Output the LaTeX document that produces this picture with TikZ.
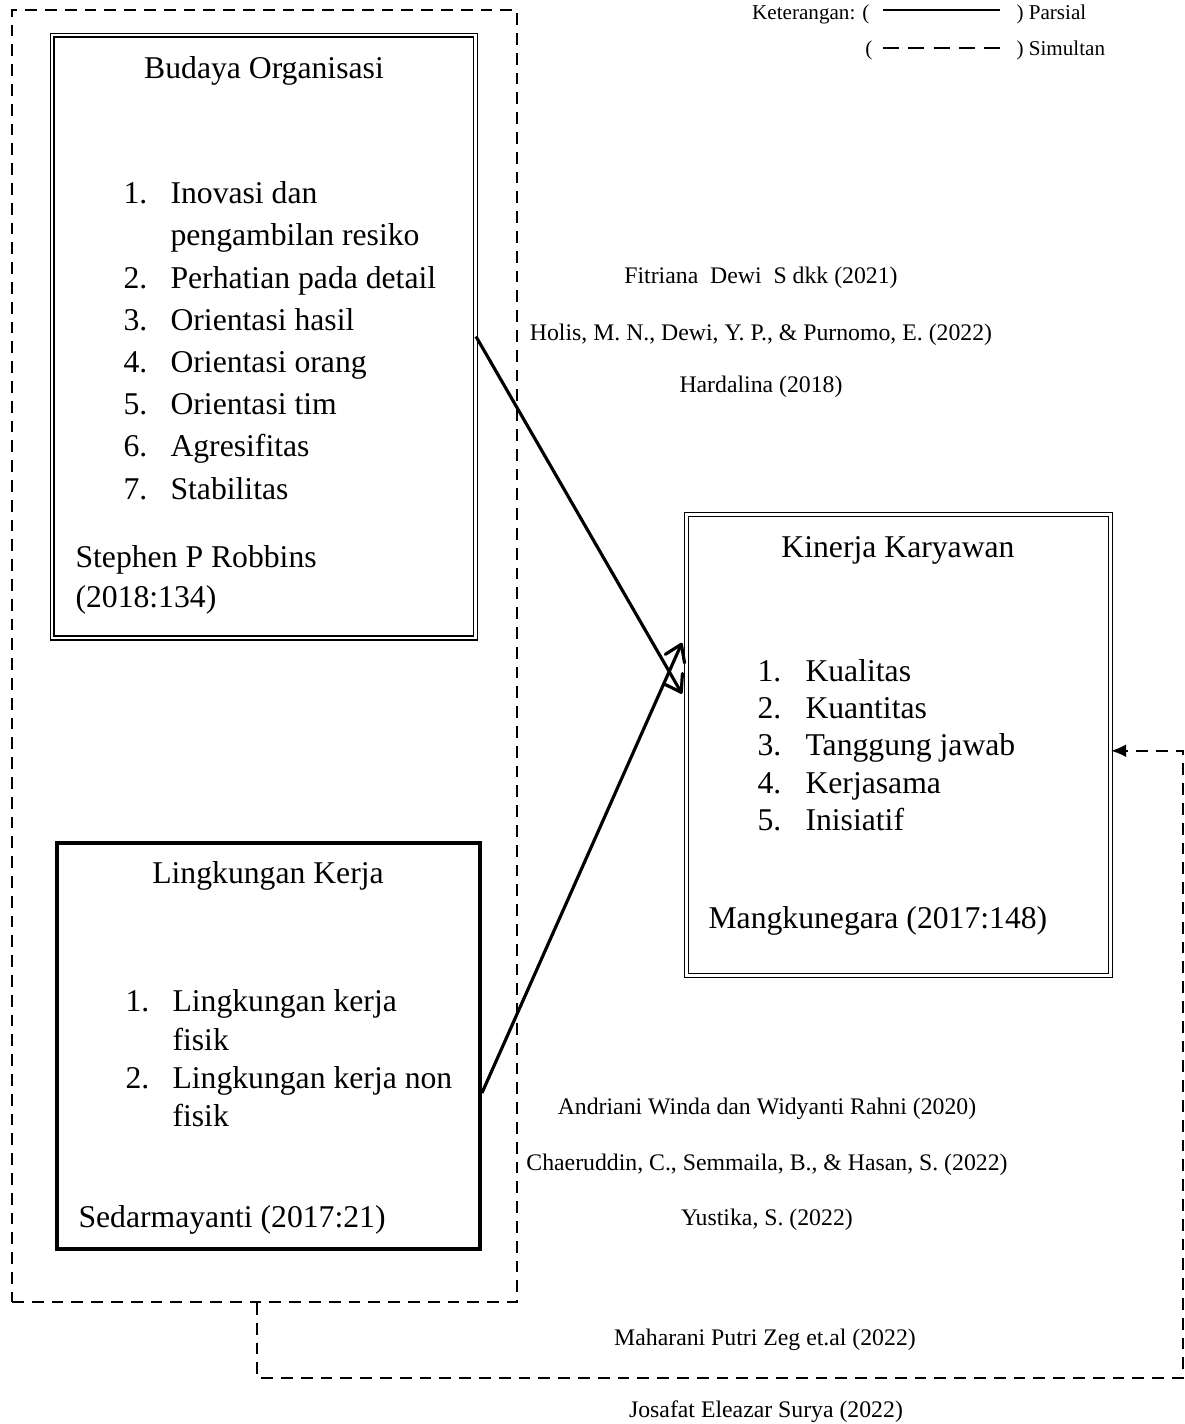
\documentclass[tikz,border=0pt]{standalone}
\usepackage{fontspec}
\setmainfont{Liberation Serif}
\usetikzlibrary{arrows.meta,positioning,calc}

\begin{document}
\begin{tikzpicture}[
    x=0.3788pt,y=-0.3788pt,
    font=\fontsize{12}{14}\selectfont,
    kotak/.style={draw,double,double distance=1.1pt,line width=0.4pt},
    kotaktebal/.style={draw,line width=1.5pt},
    putus/.style={dash pattern=on 4.5pt off 3pt,line width=0.75pt},
    teks/.style={anchor=base west,inner sep=0pt},
    judul/.style={anchor=base,inner sep=0pt},
    sumber/.style={anchor=base,inner sep=0pt,font=\fontsize{9}{11}\selectfont},
    ket/.style={inner sep=0pt,font=\fontsize{8}{10}\selectfont},
    panah/.style={-{Straight Barb[length=2.1mm,width=2.8mm,round]},line width=1.2pt}
]
\useasboundingbox (0,0) rectangle (1185,1424);

% kotak variabel
\node[draw,putus,minimum width=191.3pt,minimum height=489.4pt] (luar) at (264.5,656) {};
\node[kotak,minimum width=160.4pt,minimum height=228.4pt] (budaya) at (263.75,336.5) {};
\node[kotak,minimum width=160.6pt,minimum height=174.6pt] (kinerja) at (898.5,744.75) {};
\node[kotaktebal,minimum width=160.2pt,minimum height=153.8pt] (lingkungan) at (268.5,1046) {};

% budaya organisasi
\node[judul] (judulbudaya) at (264,78) {Budaya Organisasi};
\node[teks] (bn1) at (123,203) {1.};
\node[teks] (bt1) at (170,203) {Inovasi dan};
\node[teks] (bt1b) at (170,245) {pengambilan resiko};
\foreach \n/\t/\y in {2/Perhatian pada detail/288,3/Orientasi hasil/330,4/Orientasi orang/372,
    5/Orientasi tim/414,6/Agresifitas/456,7/Stabilitas/499}{
  \node[teks] (bn\n) at (123,\y) {\n.};
  \node[teks] (bt\n) at (170,\y) {\t};
}
\node[teks] (robbins) at (75,567) {Stephen P Robbins};
\node[teks] (robbinsth) at (75,607) {(2018:134)};

% kinerja karyawan
\node[judul] (judulkinerja) at (898,557) {Kinerja Karyawan};
\foreach \n/\t/\y in {1/Kualitas/681,2/Kuantitas/718,3/Tanggung jawab/755,4/Kerjasama/793,5/Inisiatif/830}{
  \node[teks] (kn\n) at (757,\y) {\n.};
  \node[teks] (kt\n) at (805,\y) {\t};
}
\node[teks] (mangku) at (708,928) {Mangkunegara (2017:148)};

% lingkungan kerja
\node[judul] (judullingkungan) at (268,883) {Lingkungan Kerja};
\node[teks] (ln1) at (125,1011) {1.};
\node[teks] (lt1) at (172,1011) {Lingkungan kerja};
\node[teks] (lt1b) at (172,1050) {fisik};
\node[teks] (ln2) at (125,1088) {2.};
\node[teks] (lt2) at (172,1088) {Lingkungan kerja non};
\node[teks] (lt2b) at (172,1126) {fisik};
\node[teks] (sedar) at (78,1227) {Sedarmayanti (2017:21)};

% sumber penelitian
\node[sumber] (fitriana) at (761,283) {Fitriana~~Dewi~~S dkk (2021)};
\node[sumber] (holis) at (761,340) {Holis, M. N., Dewi, Y. P., \& Purnomo, E. (2022)};
\node[sumber] (hardalina) at (761,392) {Hardalina (2018)};
\node[sumber] (andriani) at (767,1114) {Andriani Winda dan Widyanti Rahni (2020)};
\node[sumber] (chaeruddin) at (767,1170) {Chaeruddin, C., Semmaila, B., \& Hasan, S. (2022)};
\node[sumber] (yustika) at (767,1225) {Yustika, S. (2022)};
\node[sumber] (maharani) at (765,1345) {Maharani Putri Zeg et.al (2022)};
\node[sumber] (josafat) at (766,1417) {Josafat Eleazar Surya (2022)};

% keterangan
\node[ket,anchor=base east] (ketparsial) at (870,19) {Keterangan: (};
\node[ket,anchor=base west] (parsial) at (1016,19) {) Parsial};
\node[ket,anchor=base east] (ketsimultan) at (873,55) {(};
\node[ket,anchor=base west] (simultan) at (1016,55) {) Simultan};
\draw[line width=0.8pt] ($(ketparsial.base east)+(13,-9)$) -- ($(parsial.base west)+(-16,-9)$);
\draw[line width=1.1pt,dash pattern=on 6pt off 3.6pt] ($(ketsimultan.base east)+(10,-7)$) -- ($(simultan.base west)+(-16,-7)$);

% pengaruh parsial
\draw[panah] (budaya.east) -- ($(kinerja.west)+(-4,-51)$);
\draw[panah] ($(lingkungan.east)+(0,47)$) -- ($(kinerja.west)+(-4,-102)$);

% pengaruh simultan
\coordinate (umpan) at ($(luar.south)+(-7.5,0)$);
\coordinate (sudut) at (1183,1378);
\draw[putus,-{Latex[length=2mm,width=1.7mm]}] (umpan) |- (sudut) |- ($(kinerja.east)+(0,6)$);
\end{tikzpicture}
\end{document}
